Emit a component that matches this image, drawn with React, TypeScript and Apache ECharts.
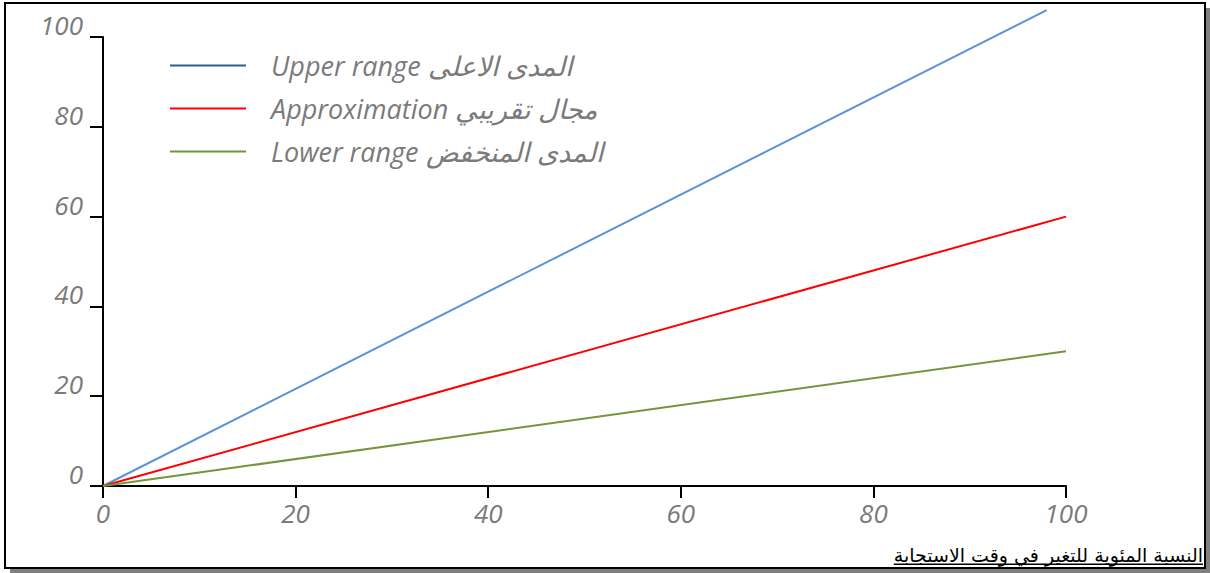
import React, { useEffect, useRef } from "react";
import * as echarts from "echarts";

const seriesNames = [
  "Upper range المدى الاعلى",
  "Approximation مجال تقريبي",
  "Lower range المدى المنخفض",
];
const upperRange = [
  [0, 0],
  [98, 106],
];
const approximation = [
  [0, 0],
  [100, 60],
];
const lowerRange = [
  [0, 0],
  [100, 30],
];
const lineColors = ["#5B93D9", "#FF0000", "#77933C"];
const legendColors = ["#2E5A94", "#FF0000", "#77933C"];
const axisTitle = "النسبة المئوية للتغير في وقت الاستجابة";

export default function App() {
  const ref = useRef<HTMLDivElement>(null);
  useEffect(() => {
    if (!ref.current) return;
    const chart = echarts.init(ref.current, null, { renderer: "svg" });
    const labelStyle = {
      color: "#7A7A7A",
      fontStyle: "italic" as const,
      fontFamily: "Open Sans",
      fontSize: 26,
    };
    const titleFont = "19px 'DejaVu Sans', sans-serif";
    let titleWidth = 320;
    try {
      const ctx = document.createElement("canvas").getContext("2d");
      if (ctx) {
        ctx.font = titleFont;
        titleWidth = ctx.measureText(axisTitle).width;
      }
    } catch (e) {}
    const datasets = [upperRange, approximation, lowerRange];
    chart.setOption({
      animation: false,
      backgroundColor: "#ffffff",
      graphic: [
        {
          type: "rect",
          z: -10,
          silent: true,
          shape: { x: 10, y: 8, width: 1200, height: 565 },
          style: { fill: "#808080" },
        },
        {
          type: "rect",
          z: -9,
          silent: true,
          shape: { x: 5, y: 3, width: 1200, height: 565 },
          style: { fill: "#ffffff", stroke: "#000000", lineWidth: 2 },
        },
        {
          type: "text",
          x: 1203,
          y: 564,
          style: {
            text: axisTitle,
            fill: "#000000",
            font: titleFont,
            textAlign: "right",
            textVerticalAlign: "bottom",
          },
        },
        {
          type: "rect",
          silent: true,
          shape: { x: 1203 - titleWidth, y: 563.5, width: titleWidth, height: 1.5 },
          style: { fill: "#000000" },
        },
      ],
      grid: { left: 103, right: 144, top: 37, bottom: 87 },
      legend: {
        orient: "vertical",
        left: 165,
        top: 45,
        itemWidth: 76,
        itemHeight: 2,
        itemGap: 12,
        icon: "rect",
        textStyle: { ...labelStyle, fontSize: 27, lineHeight: 31, padding: [0, 0, 0, 20] },
        data: seriesNames.map((n, i) => ({
          name: n,
          itemStyle: { color: legendColors[i] },
        })),
      },
      xAxis: {
        type: "value",
        min: 0,
        max: 100,
        interval: 20,
        splitLine: { show: false },
        axisLine: { show: true, onZero: false, lineStyle: { color: "#000", width: 2 } },
        axisTick: { show: true, length: 12, lineStyle: { color: "#000", width: 2 } },
        axisLabel: { ...labelStyle, margin: 14 },
      },
      yAxis: {
        type: "value",
        min: 0,
        max: 100,
        interval: 20,
        splitLine: { show: false },
        axisLine: { show: true, onZero: false, lineStyle: { color: "#000", width: 2 } },
        axisTick: { show: true, length: 13, lineStyle: { color: "#000", width: 2 } },
        axisLabel: {
          ...labelStyle,
          margin: 20,
          verticalAlign: "bottom",
          lineHeight: 24,
        },
      },
      series: datasets.map((d, i) => ({
        name: seriesNames[i],
        type: "line",
        data: d,
        clip: false,
        showSymbol: false,
        symbol: "none",
        lineStyle: { color: lineColors[i], width: 2 },
        itemStyle: { color: lineColors[i] },
      })),
    });
    return () => chart.dispose();
  }, []);
  return (
    <div
      ref={ref}
      style={{ position: "absolute", left: 0, top: 0, width: 1210, height: 573 }}
    />
  );
}
